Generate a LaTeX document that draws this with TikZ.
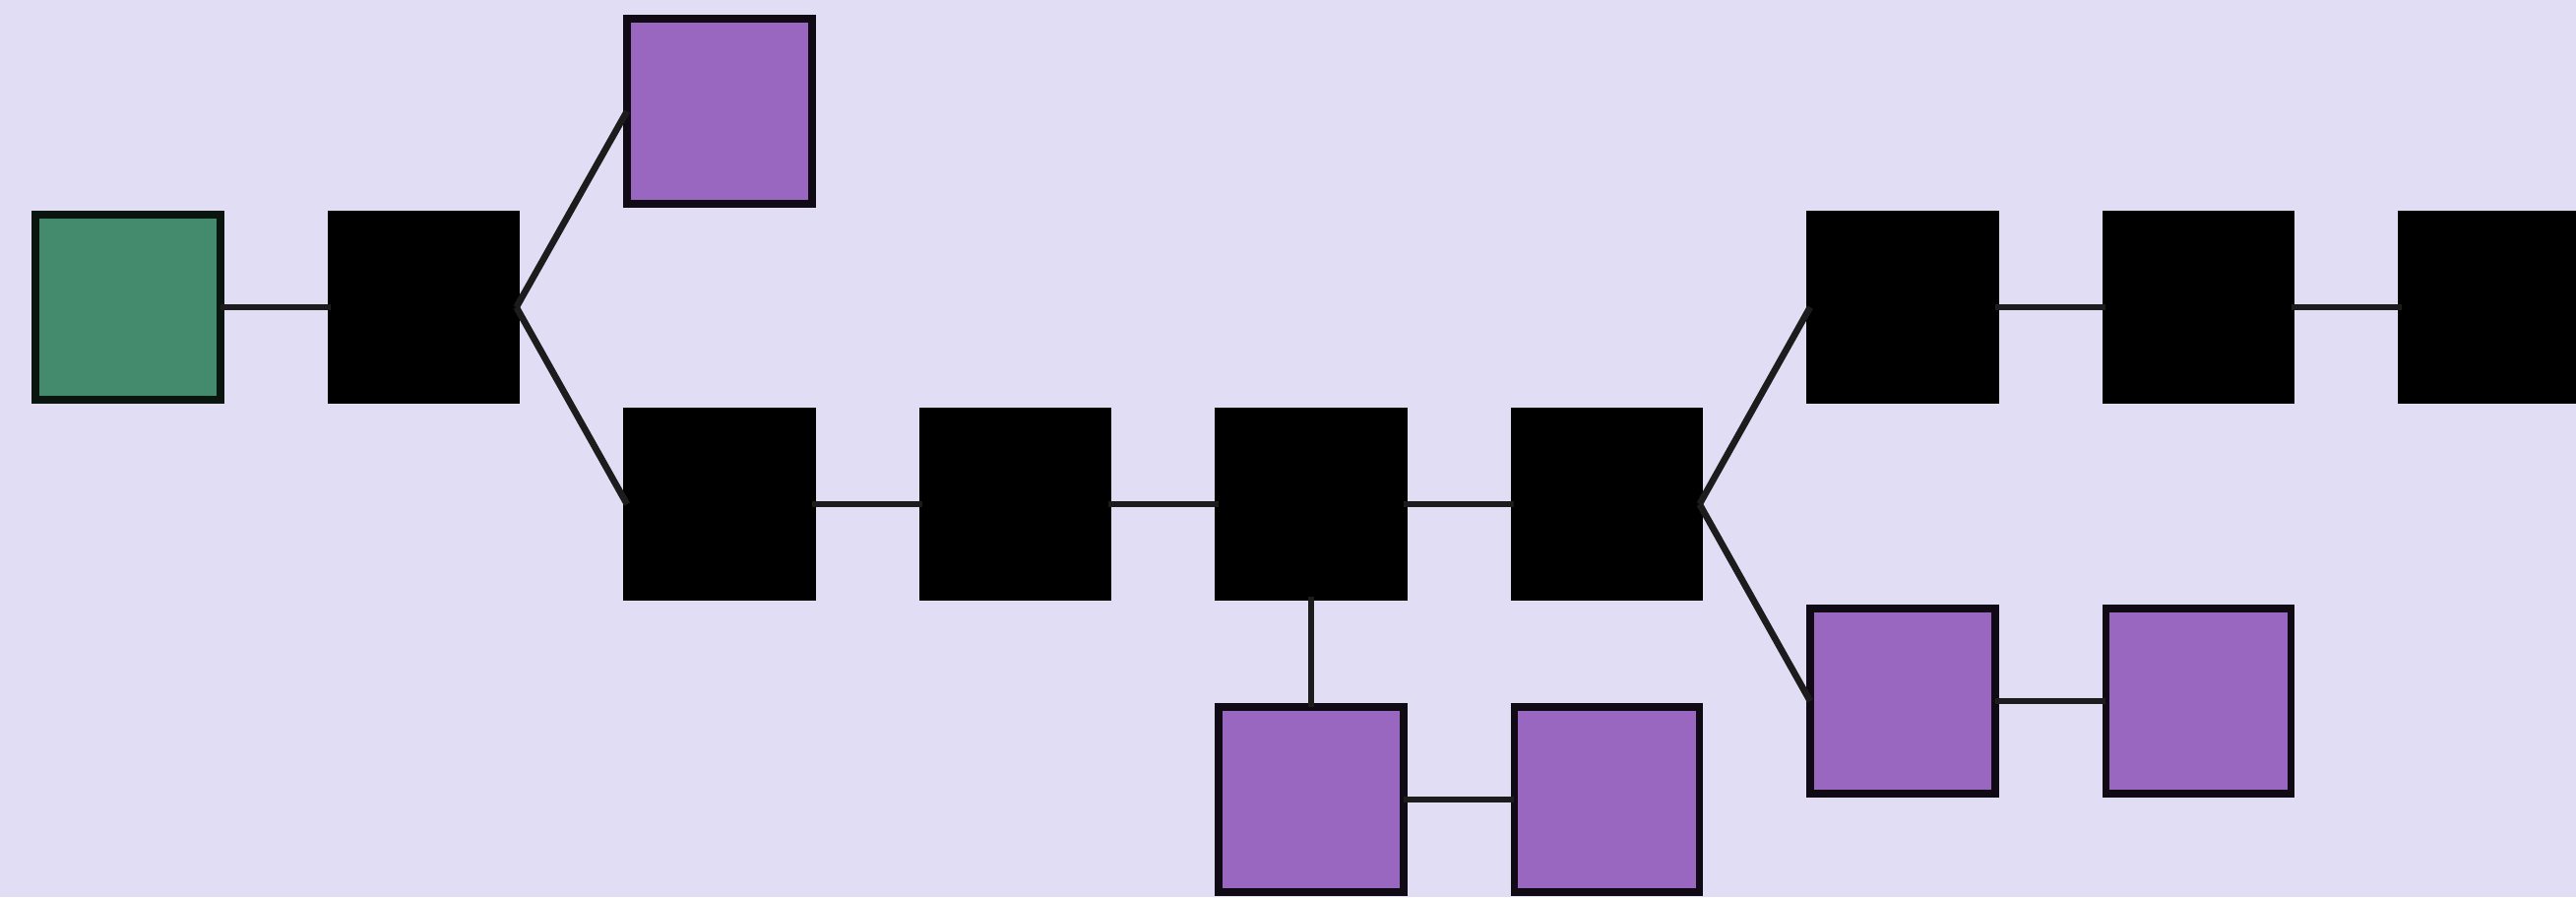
\documentclass[tikz,border=0pt]{standalone}
\usepackage{xcolor}
\definecolor{bgcol}{HTML}{E0DDF5}
\definecolor{genesis}{HTML}{448B6E}
\definecolor{orphan}{HTML}{9966C0}
\definecolor{linkcol}{HTML}{1C1C1C}
\begin{document}
\begin{tikzpicture}[x=0.01cm,y=-0.01cm,
  block/.style={draw=black, line width=2.2pt, minimum size=1.88cm, inner sep=0pt, outer sep=0pt},
  mainblock/.style={block, fill=black},
  orphanblock/.style={block, fill=orphan, draw=black!90!orphan},
  genesisblock/.style={block, fill=genesis, draw=black!85!genesis},
  link/.style={draw=linkcol, line width=1.9pt}]
  \fill[bgcol] (0,0) rectangle (2617,911);
  \useasboundingbox (0,0) rectangle (2617,911);

  % genesis and main chain
  \node[genesisblock] (g)  at (130,312) {};
  \node[mainblock]    (b1) at (430.5,312) {};
  \node[mainblock]    (b2) at (731,512) {};
  \node[mainblock]    (b3) at (1031.5,512) {};
  \node[mainblock]    (b4) at (1332,512) {};
  \node[mainblock]    (b5) at (1632.5,512) {};
  \node[mainblock]    (b6) at (1933,312) {};
  \node[mainblock]    (b7) at (2233.5,312) {};
  \node[mainblock]    (b8) at (2534,312) {};

  % orphan branches
  \node[orphanblock] (o1) at (731,113) {};
  \node[orphanblock] (o2) at (1332,812) {};
  \node[orphanblock] (o3) at (1632.5,812) {};
  \node[orphanblock] (o4) at (1933,712) {};
  \node[orphanblock] (o5) at (2233.5,712) {};

  % links
  \draw[link] (g.east) -- (b1.west);
  \draw[link] (b1.east) -- (o1.west);
  \draw[link] (b1.east) -- (b2.west);
  \draw[link] (b2.east) -- (b3.west);
  \draw[link] (b3.east) -- (b4.west);
  \draw[link] (b4.east) -- (b5.west);
  \draw[link] (b5.east) -- (b6.west);
  \draw[link] (b6.east) -- (b7.west);
  \draw[link] (b7.east) -- (b8.west);
  \draw[link] (b4.south) -- (o2.north);
  \draw[link] (o2.east) -- (o3.west);
  \draw[link] (b5.east) -- (o4.west);
  \draw[link] (o4.east) -- (o5.west);
\end{tikzpicture}
\end{document}
